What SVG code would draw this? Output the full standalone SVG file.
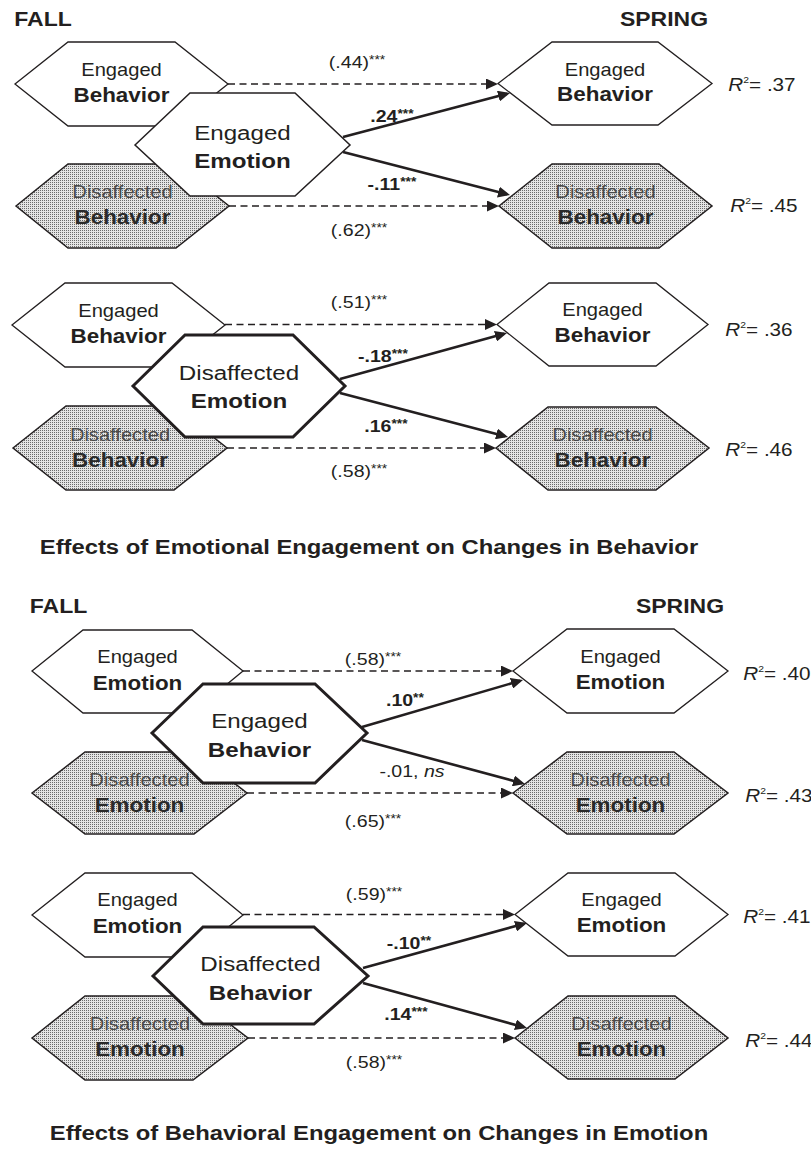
<svg xmlns="http://www.w3.org/2000/svg" width="811" height="1149" viewBox="0 0 811 1149">
<style>
.t{font-family:"Liberation Sans",Arial,Helvetica,sans-serif;fill:#231f20;text-anchor:middle;transform-box:fill-box;transform-origin:center;transform:scaleX(1.15)}
.s1{font-size:17.5px}
.s2{font-size:19.5px;font-weight:bold}
.c1{font-size:21px}
.c2{font-size:21px;font-weight:bold}
.g1{fill:#4a4a4a}
.g2{fill:#2a2a2a}
.hd{font-size:20px;font-weight:bold}
.ti{font-size:20.7px;font-weight:bold}
.lb{font-size:17px}
.lbb{font-size:17px;font-weight:bold}
.st{font-size:12px}
.r2{font-size:18px}
.hx{fill:#fff;stroke:#231f20;stroke-width:1.3}
.hs{fill:url(#dots);stroke:#231f20;stroke-width:1.5}
.hc{fill:#fff;stroke:#231f20;stroke-width:3;stroke-linejoin:miter}
.dash{fill:none;stroke:#231f20;stroke-width:1.3;stroke-dasharray:7 4.5;marker-end:url(#ah)}
.sol{fill:none;stroke:#231f20;stroke-width:2.6;marker-end:url(#ah)}
</style>
<defs>
<pattern id="dots" width="2" height="2" patternUnits="userSpaceOnUse"><rect width="2" height="2" fill="#e4e4e4"/><rect width="1" height="1" fill="#6a6a6a"/></pattern>
<marker id="ah" viewBox="0 0 12 11" refX="9" refY="5.5" markerWidth="12" markerHeight="11" markerUnits="userSpaceOnUse" orient="auto"><path d="M0,0 L12,5.5 L0,11 z" fill="#231f20"/></marker>
</defs>
<rect width="811" height="1149" fill="#fff"/>

<g id="headings">
<text class="t hd" x="43" y="26">FALL</text>
<text class="t hd" x="664" y="26.5">SPRING</text>
<text class="t hd" x="58.5" y="613">FALL</text>
<text class="t hd" x="680" y="613">SPRING</text>
<text class="t ti" x="369" y="554">Effects of Emotional Engagement on Changes in Behavior</text>
<text class="t ti" x="379" y="1140">Effects of Behavioral Engagement on Changes in Emotion</text>
</g>

<g id="connectors">
<path class="dash" d="M228,84 H495"/>
<path class="dash" d="M229,206 H496"/>
<path class="sol" d="M343,137 L507.1,93.8"/>
<path class="sol" d="M343,152 L507.1,194.3"/>
<path class="dash" d="M225,324.5 H494"/>
<path class="dash" d="M227,448 H493"/>
<path class="sol" d="M340,379 L504.1,333.8"/>
<path class="sol" d="M340,393 L505.1,436.2"/>
<path class="dash" d="M243,671 H510"/>
<path class="dash" d="M247,793 H510"/>
<path class="sol" d="M362,727 L520.1,680.8"/>
<path class="sol" d="M362,740 L522.1,783.2"/>
<path class="dash" d="M243,914.5 H512"/>
<path class="dash" d="M248,1038 H512"/>
<path class="sol" d="M363,968 L524.1,923.8"/>
<path class="sol" d="M363,983 L524.1,1027.2"/>
</g>

<g id="edge-labels">
<text class="t lb" x="357" y="68">(.44)<tspan class="st" dy="-3.5">***</tspan></text>
<text class="t lbb" x="392" y="122">.24<tspan class="st" dy="-3.5">***</tspan></text>
<text class="t lbb" x="392" y="190">-.11<tspan class="st" dy="-3.5">***</tspan></text>
<text class="t lb" x="359" y="236">(.62)<tspan class="st" dy="-3.5">***</tspan></text>
<text class="t lb" x="359" y="308">(.51)<tspan class="st" dy="-3.5">***</tspan></text>
<text class="t lbb" x="383" y="362">-.18<tspan class="st" dy="-3.5">***</tspan></text>
<text class="t lbb" x="386" y="432">.16<tspan class="st" dy="-3.5">***</tspan></text>
<text class="t lb" x="359" y="477">(.58)<tspan class="st" dy="-3.5">***</tspan></text>
<text class="t lb" x="373" y="665">(.58)<tspan class="st" dy="-3.5">***</tspan></text>
<text class="t lbb" x="405" y="706">.10<tspan class="st" dy="-3.5">**</tspan></text>
<text class="t lb" x="412" y="777">-.01, <tspan font-style="italic">ns</tspan></text>
<text class="t lb" x="373" y="827">(.65)<tspan class="st" dy="-3.5">***</tspan></text>
<text class="t lb" x="374" y="900">(.59)<tspan class="st" dy="-3.5">***</tspan></text>
<text class="t lbb" x="409" y="949">-.10<tspan class="st" dy="-3.5">**</tspan></text>
<text class="t lbb" x="406" y="1020">.14<tspan class="st" dy="-3.5">***</tspan></text>
<text class="t lb" x="374" y="1068">(.58)<tspan class="st" dy="-3.5">***</tspan></text>
</g>

<!-- Panel 1 -->
<g id="p1-fall-engaged-behavior">
<polygon class="hx" points="15,84 68,42 175,42 228,84 175,126 68,126"/>
<text class="t s1" x="121.5" y="76">Engaged</text>
<text class="t s2" x="121.5" y="102">Behavior</text>
</g>
<g id="p1-fall-disaffected-behavior">
<polygon class="hs" points="16,206 68,164 176,164 229,206 176,248 68,248"/>
<text class="t s1 g1" x="122.5" y="198">Disaffected</text>
<text class="t s2 g2" x="122.5" y="224">Behavior</text>
</g>
<g id="p1-fall-engaged-emotion">
<polygon class="hx" style="stroke-width:1.5" points="135,145 190,93 295,93 350,145 295,196 190,196"/>
<text class="t c1" x="242.5" y="140">Engaged</text>
<text class="t c2" x="242.5" y="168">Emotion</text>
</g>
<g id="p1-spring-engaged-behavior">
<polygon class="hx" points="498,83.5 552,42 658,42 712,83.5 658,125 552,125"/>
<text class="t s1" x="605" y="76">Engaged</text>
<text class="t s2" x="605" y="101">Behavior</text>
</g>
<g id="p1-spring-disaffected-behavior">
<polygon class="hs" points="499,206 552,164 659,164 712,206 659,248 552,248"/>
<text class="t s1 g1" x="605.5" y="198">Disaffected</text>
<text class="t s2 g2" x="605.5" y="224">Behavior</text>
</g>
<text class="t r2" x="762" y="91"><tspan font-style="italic">R</tspan><tspan font-size="9" dy="-8">2</tspan><tspan dy="8">= .37</tspan></text>
<text class="t r2" x="764" y="212"><tspan font-style="italic">R</tspan><tspan font-size="9" dy="-8">2</tspan><tspan dy="8">= .45</tspan></text>

<!-- Panel 2 -->
<g id="p2-fall-engaged-behavior">
<polygon class="hx" points="12,325 65,283 172,283 225,325 172,367 65,367"/>
<text class="t s1" x="118.5" y="317">Engaged</text>
<text class="t s2" x="118.5" y="343">Behavior</text>
</g>
<g id="p2-fall-disaffected-behavior">
<polygon class="hs" points="13,448 66,406 174,406 227,448 174,490 66,490"/>
<text class="t s1 g1" x="120" y="441">Disaffected</text>
<text class="t s2 g2" x="120" y="467">Behavior</text>
</g>
<g id="p2-fall-disaffected-emotion">
<polygon class="hc" points="133,386 185,335 293,335 345,386 293,437 185,437"/>
<text class="t c1" x="239" y="380">Disaffected</text>
<text class="t c2" x="239" y="408">Emotion</text>
</g>
<g id="p2-spring-engaged-behavior">
<polygon class="hx" points="497,324.5 549,283 656,283 708,324.5 656,366 549,366"/>
<text class="t s1" x="602.5" y="316">Engaged</text>
<text class="t s2" x="602.5" y="342">Behavior</text>
</g>
<g id="p2-spring-disaffected-behavior">
<polygon class="hs" points="496,448 548,407 656,407 709,448 656,490 548,490"/>
<text class="t s1 g1" x="602.5" y="441">Disaffected</text>
<text class="t s2 g2" x="602.5" y="467">Behavior</text>
</g>
<text class="t r2" x="759" y="336"><tspan font-style="italic">R</tspan><tspan font-size="9" dy="-8">2</tspan><tspan dy="8">= .36</tspan></text>
<text class="t r2" x="759" y="456"><tspan font-style="italic">R</tspan><tspan font-size="9" dy="-8">2</tspan><tspan dy="8">= .46</tspan></text>

<!-- Panel 3 -->
<g id="p3-fall-engaged-emotion">
<polygon class="hx" points="32,671 83,630 192,630 243,671 192,713 83,713"/>
<text class="t s1" x="137.5" y="663">Engaged</text>
<text class="t s2" x="137.5" y="690">Emotion</text>
</g>
<g id="p3-fall-disaffected-emotion">
<polygon class="hs" points="32,793 85,752 194,752 247,793 194,834 85,834"/>
<text class="t s1 g1" x="139.5" y="786">Disaffected</text>
<text class="t s2 g2" x="139.5" y="812">Emotion</text>
</g>
<g id="p3-fall-engaged-behavior">
<polygon class="hc" points="152,733 203,684 315,684 367,733 315,783 203,783"/>
<text class="t c1" x="259.5" y="728">Engaged</text>
<text class="t c2" x="259.5" y="757">Behavior</text>
</g>
<g id="p3-spring-engaged-emotion">
<polygon class="hx" points="513,671 567,629 674,629 728,671 674,713 567,713"/>
<text class="t s1" x="620.5" y="663">Engaged</text>
<text class="t s2" x="620.5" y="689">Emotion</text>
</g>
<g id="p3-spring-disaffected-emotion">
<polygon class="hs" points="513,793 567,752 674,752 728,793 674,834 567,834"/>
<text class="t s1 g1" x="620.5" y="786">Disaffected</text>
<text class="t s2 g2" x="620.5" y="812">Emotion</text>
</g>
<text class="t r2" x="777" y="680"><tspan font-style="italic">R</tspan><tspan font-size="9" dy="-8">2</tspan><tspan dy="8">= .40</tspan></text>
<text class="t r2" x="779" y="802"><tspan font-style="italic">R</tspan><tspan font-size="9" dy="-8">2</tspan><tspan dy="8">= .43</tspan></text>

<!-- Panel 4 -->
<g id="p4-fall-engaged-emotion">
<polygon class="hx" points="32,915 85,873 192,873 243,915 192,957 85,957"/>
<text class="t s1" x="137.5" y="906">Engaged</text>
<text class="t s2" x="137.5" y="933">Emotion</text>
</g>
<g id="p4-fall-disaffected-emotion">
<polygon class="hs" points="32,1038 85,996 193,996 248,1038 193,1080 85,1080"/>
<text class="t s1 g1" x="140" y="1030">Disaffected</text>
<text class="t s2 g2" x="140" y="1056">Emotion</text>
</g>
<g id="p4-fall-disaffected-behavior">
<polygon class="hc" points="153,976 203,927 314,927 368,976 314,1024 203,1024"/>
<text class="t c1" x="260.5" y="971">Disaffected</text>
<text class="t c2" x="260.5" y="1000">Behavior</text>
</g>
<g id="p4-spring-engaged-emotion">
<polygon class="hx" points="515,914.5 568,873 675,873 728,914.5 675,956 568,956"/>
<text class="t s1" x="621.5" y="906">Engaged</text>
<text class="t s2" x="621.5" y="932">Emotion</text>
</g>
<g id="p4-spring-disaffected-emotion">
<polygon class="hs" points="515,1038 568,996 675,996 728,1038 675,1079 568,1079"/>
<text class="t s1 g1" x="621.5" y="1030">Disaffected</text>
<text class="t s2 g2" x="621.5" y="1056">Emotion</text>
</g>
<text class="t r2" x="777" y="923"><tspan font-style="italic">R</tspan><tspan font-size="9" dy="-8">2</tspan><tspan dy="8">= .41</tspan></text>
<text class="t r2" x="779" y="1047"><tspan font-style="italic">R</tspan><tspan font-size="9" dy="-8">2</tspan><tspan dy="8">= .44</tspan></text>
</svg>
